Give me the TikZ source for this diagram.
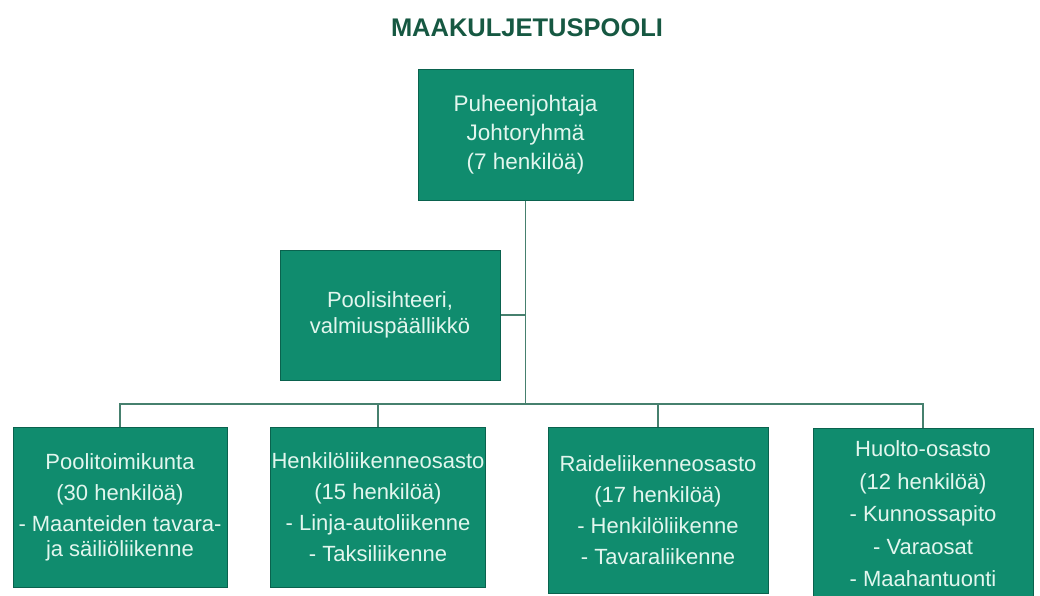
\documentclass[tikz,border=0pt]{standalone}
\usepackage{fontspec}
\setmainfont{Liberation Sans}
\usepackage{tikz}
\usetikzlibrary{
  positioning,
  calc
}
\definecolor{PoolGreen}{RGB}{16, 140, 110}
\definecolor{PoolEdge}{RGB}{10, 98, 78}
\definecolor{PoolText}{RGB}{226, 246, 238}
\definecolor{TitleGreen}{RGB}{22, 88, 66}
\definecolor{LineGreen}{RGB}{70, 128, 110}
\tikzset{
    orgbox/.style={
        rectangle, fill=PoolGreen, draw=PoolEdge, line width=1pt,
        text=PoolText, align=center, inner sep=1pt,
        font=\fontsize{22}{31}\selectfont
    },
    orgline/.style={draw=LineGreen, line width=1.2pt}
}

\begin{document}
\begin{tikzpicture}[x=1pt, y=-1pt]
                \useasboundingbox (0,0) rectangle (1040,596);
                \node[font=\fontsize{25.5}{30}\selectfont\bfseries, text=TitleGreen] (title) at (527,28) {MAAKULJETUSPOOLI};
                \node[orgbox, minimum width=215pt, minimum height=130pt, font=\fontsize{22.5}{29}\selectfont] (chair) at (525.5,135) {
                    Puheenjohtaja\\
                    Johtoryhmä\\
                    (7 henkilöä)
                };
                \node[orgbox, minimum width=220pt, minimum height=130pt, font=\fontsize{22}{26}\selectfont] (secretary) at (390,315) {
                    Poolisihteeri,\\
                    valmiuspäällikkö
                };
                \node[orgbox, minimum width=214pt, minimum height=160pt] (committee) at (120,507) {
                    Poolitoimikunta\\
                    (30 henkilöä)\\
                    - Maanteiden tavara-\\[-6pt]
                    ja säiliöliikenne
                };
                \node[orgbox, minimum width=210pt, minimum height=160pt] (passenger) at (378,507) {
                    Henkilöliikenneosasto\\
                    (15 henkilöä)\\
                    - Linja-autoliikenne\\
                    - Taksiliikenne
                };
                \node[orgbox, minimum width=220pt, minimum height=166pt] (rail) at (658,510) {
                    Raideliikenneosasto\\
                    (17 henkilöä)\\
                    - Henkilöliikenne\\
                    - Tavaraliikenne
                };
                \node[orgbox, minimum width=220pt, minimum height=172pt, font=\fontsize{22}{32.5}\selectfont] (service) at (923,514) {
                    Huolto-osasto\\
                    (12 henkilöä)\\
                    - Kunnossapito\\
                    - Varaosat\\
                    - Maahantuonti
                };
                \coordinate (bus) at (chair.south |- 0,404);
                \draw[orgline] (chair.south) -- (bus);
                \draw[orgline] (secretary.east) -- (secretary.east -| chair.south);
                \draw[orgline] (bus) -| (committee.north);
                \draw[orgline] (bus) -| (passenger.north);
                \draw[orgline] (bus) -| (rail.north);
                \draw[orgline] (bus) -| (service.north);
            \end{tikzpicture}
\end{document}
